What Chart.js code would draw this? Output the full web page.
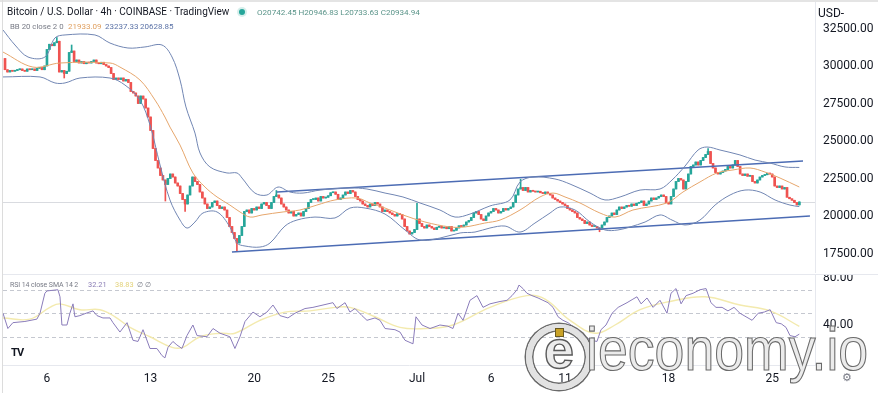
<!DOCTYPE html>
<html>
<head>
<meta charset="utf-8">
<script src="https://cdn.jsdelivr.net/npm/chart.js@4.4.0/dist/chart.umd.min.js"></script>
<style>
  body { margin: 0; background: #fff; }
  #wrap { position: relative; width: 878px; height: 393px; overflow: hidden; background: #fff; font-family: Roboto, "Open Sans", sans-serif; }
  canvas { position: absolute; left: 0; }
  #main { top: 0; }
  #rsi { top: 275px; }
  .lbl { position: absolute; white-space: nowrap; line-height: 12px; }
  #topbar { position: absolute; left: 0; top: 0; width: 878px; height: 2px; background: #e4e4e4; }
  #leftbar { position: absolute; left: 2px; top: 0; width: 1px; height: 393px; background: #dcdcdc; }
  #sep { position: absolute; left: 3px; top: 274px; width: 875px; height: 1px; background: #e6e8ee; }
  #dot { position: absolute; left: 239px; top: 9px; width: 6px; height: 6px; border-radius: 50%; background: #26a69a; box-shadow: 0 0 0 2px #d7efec; }
  #wm-ring { position: absolute; left: 526px; top: 324px; width: 54px; height: 54px; border: 6px solid #e2e2e2; border-radius: 50%; box-shadow: 0 0 0 1.5px #6a6a6a, inset 0 0 0 1.5px #6a6a6a; }
  #wm-e { position: absolute; left: 538px; top: 318px; width: 42px; text-align: center; font: bold 54px "Liberation Sans", Arial, sans-serif; line-height: 62px; color: #ececec; -webkit-text-stroke: 1.4px #5a5a5a; }
  #wm-gold { position: absolute; left: 555px; top: 328px; width: 7px; height: 7px; background: #c9a227; border: 1px solid #6a5a20; }
  #wm-text { position: absolute; left: 586px; top: 318px; font: 62px "Liberation Sans", Arial, sans-serif; line-height: 62px; color: #ebebeb; -webkit-text-stroke: 1.2px #6b6b6b; transform: scaleX(0.865); transform-origin: left top; white-space: nowrap; }
</style>
</head>
<body>
<div id="wrap">
  <canvas id="main" width="878" height="275"></canvas>
  <canvas id="rsi" width="878" height="118"></canvas>
  <div id="topbar"></div>
  <div id="leftbar"></div>
  <div id="sep"></div>

  <div class="lbl" style="left:7px;top:6px;font-size:10px;color:#131722">Bitcoin / U.S. Dollar · 4h · COINBASE · TradingView</div>
  <div id="dot"></div>
  <div class="lbl" id="ohlc" style="left:257px;top:6px;font-size:8.1px;color:#5a9489"></div>

  <div class="lbl" style="left:10px;top:21px;font-size:7.8px;color:#787b86">BB 20 close 2 0</div>
  <div class="lbl" id="bbMid" style="left:68px;top:21px;font-size:8px;color:#e0a060"></div>
  <div class="lbl" id="bbUp" style="left:105px;top:21px;font-size:8px;color:#5d74a8"></div>
  <div class="lbl" id="bbLow" style="left:140px;top:21px;font-size:8px;color:#5d74a8"></div>

  <div class="lbl" style="left:10px;top:279px;font-size:7px;letter-spacing:-0.1px;color:#787b86">RSI 14 close SMA 14 2</div>
  <div class="lbl" id="rsiVal" style="left:88px;top:279px;font-size:7.4px;color:#8a7db5"></div>
  <div class="lbl" id="smaVal" style="left:115px;top:279px;font-size:7.4px;color:#e3d27a"></div>
  <div class="lbl" style="left:137px;top:279px;font-size:7.4px;color:#787b86">∅ ∅</div>

  <div class="lbl" style="left:818px;top:7px;font-size:12px;color:#131722">USD-</div>
  <div class="lbl" style="left:11px;top:347px;font-size:11px;font-weight:bold;color:#131722;letter-spacing:-1px">TV</div>
  <div class="lbl" style="left:842px;top:372px;font-size:11px;color:#787b86">⚙</div>

  <div id="wm-ring"></div>
  <div id="wm-e">e</div>
  <div id="wm-gold"></div>
  <div id="wm-text">ieconomy.io</div>
</div>

<script>
// time axis is in days of June (31 = Jul 1), 4h candles
const firstCandleDay = 3 + 1 / 6;
const firstOpen = 30500;
const xMin = 3.03;
const xMax = 57.89;

const dateTicks = [6, 13, 20, 25, 31, 36, 41, 48, 55];
const dateLabels = ["6", "13", "20", "25", "Jul", "6", "11", "18", "25"];
const priceTicks = [17500, 20000, 22500, 25000, 27500, 30000, 32500];
const rsiTicks = [80, 40];
const rsiBands = [70, 50, 30];

// 4h closes, one row per day
const closes = [
  29750, 29600, 29700, 29650, 29700,            // Jun 3
  29750, 29800, 29700, 29650, 29800, 29750,     // Jun 4
  29800, 29700, 29850, 29900, 29750, 30000,     // Jun 5
  31100, 31450, 31350, 31550, 31650, 29600,     // Jun 6
  29700, 29500, 29650, 30900, 31000, 30300,     // Jun 7
  30400, 30200, 30300, 30150, 30250, 30200,     // Jun 8
  30300, 30400, 30200, 30150, 30250, 30100,     // Jun 9
  30000, 29900, 29500, 29100, 29200, 29100,     // Jun 10
  29200, 29000, 29100, 28900, 28300, 28200,     // Jun 11
  28000, 27500, 28000, 27800, 27200, 26600,     // Jun 12
  25700, 24500, 23700, 23200, 22700, 22400,     // Jun 13
  22100, 22500, 22800, 22600, 22200, 22000,     // Jun 14
  21500, 21100, 20800, 21400, 22000, 22600,     // Jun 15
  22300, 22100, 21600, 21200, 20800, 20500,     // Jun 16
  20600, 20900, 21000, 20700, 20500, 20600,     // Jun 17
  20400, 19900, 19300, 18900, 18500, 18200,     // Jun 18
  18700, 19300, 20300, 20400, 20200, 20500,     // Jun 19
  20400, 20600, 20500, 20800, 20900, 20700,     // Jun 20
  20500, 20900, 21300, 21400, 21200, 20800,     // Jun 21
  20600, 20400, 20200, 20300, 20000, 20100,     // Jun 22
  20200, 20000, 20300, 20500, 20900, 21100,     // Jun 23
  21100, 21200, 21000, 21300, 21200, 21250,     // Jun 24
  21350, 21550, 21600, 21450, 21100, 21200,     // Jun 25
  21400, 21600, 21500, 21700, 21600, 21300,     // Jun 26
  21100, 21000, 20800, 20700, 20600, 20800,     // Jun 27
  20700, 20900, 20800, 20600, 20300, 20400,     // Jun 28
  20300, 20200, 20100, 20000, 20150, 20100,     // Jun 29
  19800, 19300, 19000, 18800, 18900, 19100,     // Jun 30
  19800, 19500, 19300, 19200, 19400, 19300,     // Jul 1
  19200, 19100, 19250, 19300, 19200, 19250,     // Jul 2
  19150, 19300, 19000, 19050, 19200, 19350,     // Jul 3
  19300, 19400, 19600, 19700, 19900, 20200,     // Jul 4
  20300, 20100, 19800, 19700, 20000, 20200,     // Jul 5
  20300, 20500, 20400, 20200, 20300, 20500,     // Jul 6
  20400, 20500, 20600, 20900, 21400, 21800,     // Jul 7
  21900, 21700, 21900, 21600, 21700, 21650,     // Jul 8
  21600, 21650, 21550, 21500, 21600, 21500,     // Jul 9
  21400, 21200, 21100, 21000, 20900, 20800,     // Jul 10
  20700, 20500, 20400, 20300, 20200, 19900,     // Jul 11
  19800, 19700, 19500, 19600, 19400, 19300,     // Jul 12
  19300, 19200, 19100, 19400, 19600, 19900,     // Jul 13
  20000, 20200, 20100, 20400, 20600, 20500,     // Jul 14
  20600, 20700, 20650, 20800, 20700, 20850,     // Jul 15
  20900, 21000, 20700, 20800, 21000, 21200,     // Jul 16
  21100, 21200, 21300, 21400, 21300, 20900,     // Jul 17
  20800, 21300, 21800, 22300, 22500, 22400,     // Jul 18
  21800, 22300, 22800, 23300, 23400, 23600,     // Jul 19
  23400, 23700, 23900, 24100, 24300, 23500,     // Jul 20
  23200, 22900, 22800, 22900, 23000, 23100,     // Jul 21
  23300, 23200, 23400, 23700, 23300, 22800,     // Jul 22
  22700, 22800, 22650, 22700, 22300, 22200,     // Jul 23
  22400, 22600, 22700, 22750, 22850, 22800,     // Jul 24
  22600, 22000, 21900, 22000, 21800, 21900,     // Jul 25
  21250, 21150, 21050, 20900, 20742.45, 20934.94 // Jul 26
];

// visible wicks: [candle index, high, low]
const wicks = [
  [21, 31900, null], [24, null, 29200], [27, 31400, null], [65, null, 21000],
  [73, null, 20300], [94, null, 17650], [110, 21700, null], [167, 20850, null],
  [209, 22450, null], [241, null, 18950], [285, 24500, null], [322, 20946.83, 20733.63]
];

// Bollinger 20/2: [day, price]
const bbUpper = [
  [3.03, 32400], [3.84, 31400], [4.72, 30600], [5.86, 30600], [6.54, 31870], [7.22, 32070],
  [9.24, 32070], [10.26, 31530], [11.47, 31200], [12.62, 31270], [13.77, 31400], [14.45, 30600],
  [14.99, 29070], [15.39, 27270], [16.0, 25530], [16.34, 24200], [17.01, 23270], [18.16, 22870],
  [18.84, 22870], [19.18, 22530], [20.05, 21530], [20.86, 21400], [21.61, 21930], [22.42, 21600],
  [23.3, 21530], [24.45, 21730], [26.47, 21870], [27.62, 21800], [28.84, 21530], [30.05, 21270],
  [31.2, 20870], [32.55, 20400], [33.57, 19930], [34.58, 20130], [35.93, 20670], [37.28, 21070],
  [37.96, 22270], [38.84, 22600], [40.32, 22470], [41.34, 22130], [42.69, 21530], [43.7, 21070],
  [44.72, 21270], [46.07, 21730], [47.42, 21800], [48.23, 22400], [49.11, 23330], [49.99, 24400],
  [50.59, 24600], [51.47, 24400], [52.82, 24070], [53.84, 23730], [54.85, 23530], [55.86, 23270],
  [56.83, 23237.33]
];
const bbBasis = [
  [3.03, 30930], [5.05, 29930], [6.88, 30200], [10.26, 30200], [10.93, 29930], [12.28, 29070],
  [13.3, 27730], [13.97, 26600], [14.31, 25930], [14.99, 24730], [15.86, 22870], [16.68, 21930],
  [17.49, 21270], [18.36, 20730], [19.04, 20270], [19.72, 19930], [20.53, 20070], [21.95, 20270],
  [23.09, 20400], [24.24, 20730], [25.46, 21070], [26.95, 21200], [27.82, 20870], [28.84, 20530],
  [30.05, 20070], [31.54, 19600], [33.23, 19270], [34.24, 19270], [35.58, 19530], [36.61, 19730],
  [37.96, 20400], [39.31, 21270], [40.19, 21530], [41.0, 21270], [42.01, 20870], [43.36, 20200],
  [44.38, 19930], [45.59, 20400], [47.89, 20870], [48.97, 21600], [50.12, 22270], [51.27, 22870],
  [52.35, 23070], [53.5, 23200], [54.51, 22930], [55.53, 22530], [56.83, 21933.09]
];
const bbLower = [
  [3.03, 29270], [5.53, 29270], [6.54, 28870], [7.22, 28870], [8.23, 29200], [10.26, 29200],
  [11.27, 28730], [12.28, 27730], [12.96, 26070], [13.64, 23400], [14.31, 21070], [14.99, 19730],
  [15.46, 19200], [16.0, 19600], [16.54, 20200], [17.49, 20270], [18.36, 19270], [18.84, 18200],
  [19.38, 18000], [20.39, 17930], [21.07, 18200], [22.08, 19330], [22.89, 19730], [24.11, 19930],
  [25.46, 19870], [26.47, 20530], [27.49, 20530], [28.84, 20130], [30.19, 19070], [31.2, 18400],
  [32.55, 18530], [33.91, 18870], [34.92, 18930], [35.93, 19200], [36.95, 19330], [37.96, 18930],
  [38.97, 19530], [39.99, 20200], [40.66, 20600], [41.68, 20400], [42.69, 19600], [43.7, 19070],
  [44.58, 19070], [45.39, 19270], [46.41, 19600], [47.42, 20070], [48.23, 19730], [49.11, 19400],
  [50.12, 19730], [51.14, 20730], [52.15, 21400], [53.16, 21730], [54.18, 21600], [55.19, 21070],
  [56.2, 20730], [56.83, 20628.85]
];

// trend channel drawn on the chart
const channelTop = [[21.54, 21600], [57.08, 23670]];
const channelBottom = [[18.5, 17600], [57.55, 20000]];

// RSI 14 and its SMA 14
const rsiLine = [
  [3.03, 50], [3.36, 37], [3.7, 42], [4.51, 43], [5.32, 45], [5.53, 50], [5.86, 67], [6.0, 69],
  [6.74, 70], [6.88, 64], [7.01, 40], [7.35, 40], [7.55, 50], [7.76, 58], [7.89, 47], [8.23, 48],
  [8.64, 50], [9.11, 52], [9.38, 48], [9.78, 46], [10.26, 46], [10.46, 42], [10.93, 34], [11.41, 42],
  [11.81, 27], [12.15, 26], [12.49, 36], [12.96, 20], [13.43, 20], [13.77, 14], [13.97, 12], [14.18, 21],
  [14.51, 26], [14.78, 23], [15.12, 20], [15.46, 31], [15.86, 40], [16.14, 31], [16.81, 30], [17.22, 37],
  [17.69, 33], [18.36, 30], [18.7, 20], [19.04, 30], [19.38, 43], [19.92, 51], [20.39, 47], [20.86, 51],
  [21.27, 57], [21.74, 48], [22.28, 46], [22.76, 50], [23.43, 54], [23.97, 55], [24.65, 57], [25.32, 59],
  [25.59, 54], [26.14, 59], [26.47, 51], [26.81, 54], [27.28, 48], [27.62, 44], [28.16, 46], [28.5, 44],
  [28.84, 37], [29.51, 36], [29.85, 34], [30.19, 27], [30.73, 24], [30.93, 47], [31.34, 40], [31.88, 37],
  [32.55, 40], [33.09, 39], [33.43, 37], [33.77, 50], [34.11, 44], [34.58, 61], [35.05, 65], [35.46, 55],
  [35.93, 58], [36.61, 60], [37.08, 61], [37.42, 65], [37.76, 70], [37.89, 74], [38.16, 71], [38.43, 67],
  [38.77, 65], [39.18, 63], [39.51, 61], [39.85, 59], [40.19, 55], [40.53, 47], [40.86, 44], [41.2, 42],
  [41.61, 38], [42.01, 34], [42.35, 30], [42.76, 27], [43.16, 26], [43.43, 36], [43.77, 40], [44.18, 50],
  [44.59, 55], [45.19, 59], [45.59, 62], [45.86, 64], [46.14, 58], [46.54, 63], [46.95, 55], [47.42, 61],
  [47.89, 50], [48.16, 67], [48.5, 71], [48.84, 58], [49.18, 65], [49.65, 67], [50.12, 70], [50.53, 71],
  [50.86, 59], [51.2, 55], [51.61, 55], [52.01, 52], [52.42, 55], [52.82, 50], [53.23, 47], [53.64, 44],
  [54.05, 50], [54.46, 51], [54.86, 53], [55.27, 42], [55.61, 41], [55.93, 38], [56.2, 31], [56.54, 30],
  [56.83, 32.21]
];
const rsiSma = [
  [3.03, 46], [4.85, 45], [6.2, 55], [6.88, 58], [8.23, 53], [9.58, 53], [10.6, 47], [11.61, 38],
  [12.96, 30], [14.45, 21], [15.19, 21], [16.34, 30], [17.69, 33], [18.7, 33], [20.39, 44], [22.08, 51],
  [23.77, 52], [25.46, 55], [26.47, 55], [28.16, 47], [29.85, 38], [31.54, 37], [33.43, 40], [35.93, 55],
  [38.43, 65], [39.65, 62], [41.34, 44], [43.03, 33], [44.38, 40], [46.07, 53], [48.09, 60], [50.46, 64],
  [52.82, 57], [54.86, 52], [56.83, 38.83]
];

const upColor = "#26a69a";
const downColor = "#ef5350";

// build candles
let candleTimes = [];
let opens = [];
let highs = [];
let lows = [];
for (let i = 0; i < closes.length; i++) {
  candleTimes.push(firstCandleDay + i / 6);
  let o = i == 0 ? firstOpen : closes[i - 1];
  opens.push(o);
  highs.push(Math.max(o, closes[i]));
  lows.push(Math.min(o, closes[i]));
}
wicks.forEach(w => {
  if (w[1] != null) highs[w[0]] = w[1];
  if (w[2] != null) lows[w[0]] = w[2];
});
let candleColors = closes.map((c, i) => c >= opens[i] ? upColor : downColor);

const toPoints = arr => arr.map(p => ({ x: p[0], y: p[1] }));
const last = closes.length - 1;

document.getElementById("ohlc").textContent =
  `O${opens[last].toFixed(2)} H${highs[last].toFixed(2)} L${lows[last].toFixed(2)} C${closes[last].toFixed(2)}`;
document.getElementById("bbMid").textContent = bbBasis[bbBasis.length - 1][1].toFixed(2);
document.getElementById("bbUp").textContent = bbUpper[bbUpper.length - 1][1].toFixed(2);
document.getElementById("bbLow").textContent = bbLower[bbLower.length - 1][1].toFixed(2);
document.getElementById("rsiVal").textContent = rsiLine[rsiLine.length - 1][1].toFixed(2);
document.getElementById("smaVal").textContent = rsiSma[rsiSma.length - 1][1].toFixed(2);

const axisFont = { family: "Roboto, 'Open Sans', sans-serif", size: 12 };

// keep the plot areas fixed: no extra room for edge labels
function fixY(s) {
  s.width = 63;
  s.paddingTop = 0;
  s.paddingBottom = 0;
}
function fixX(s) {
  s.height = 28;
  s.paddingLeft = 0;
  s.paddingRight = 0;
}

// faint line at the last price
const priceLine = {
  id: "priceLine",
  beforeDatasetsDraw(chart) {
    const { ctx, chartArea, scales } = chart;
    let y = Math.round(scales.y.getPixelForValue(closes[last])) + 0.5;
    ctx.save();
    ctx.strokeStyle = "#d9dbe0";
    ctx.lineWidth = 1;
    ctx.beginPath();
    ctx.moveTo(chartArea.left, y);
    ctx.lineTo(chartArea.right, y);
    ctx.stroke();
    ctx.restore();
  }
};

// dashed 70 / 50 / 30 levels
const rsiLevels = {
  id: "rsiLevels",
  beforeDatasetsDraw(chart) {
    const { ctx, chartArea, scales } = chart;
    ctx.save();
    ctx.strokeStyle = "#c5c8d0";
    ctx.lineWidth = 1;
    ctx.setLineDash([4, 3]);
    rsiBands.forEach(v => {
      let y = Math.round(scales.y.getPixelForValue(v)) + 0.5;
      ctx.beginPath();
      ctx.moveTo(chartArea.left, y);
      ctx.lineTo(chartArea.right, y);
      ctx.stroke();
    });
    ctx.restore();
  }
};

function lineSet(points, color, width, tension) {
  return {
    type: "line",
    data: toPoints(points),
    borderColor: color,
    borderWidth: width,
    pointRadius: 0,
    tension: tension,
    order: 0
  };
}

new Chart(document.getElementById("main"), {
  type: "bar",
  data: {
    datasets: [
      lineSet(bbUpper, "#7186b3", 1, 0.35),
      lineSet(bbBasis, "#e6a66c", 1, 0.35),
      lineSet(bbLower, "#7186b3", 1, 0.35),
      lineSet(channelTop, "#4c6cb4", 1.4, 0),
      lineSet(channelBottom, "#4c6cb4", 1.4, 0),
      {
        label: "body",
        data: closes.map((c, i) => ({ x: candleTimes[i], y: [opens[i], c] })),
        backgroundColor: candleColors,
        barThickness: 2,
        minBarLength: 1,
        grouped: false,
        order: 1
      },
      {
        label: "wick",
        data: closes.map((c, i) => ({ x: candleTimes[i], y: [lows[i], highs[i]] })),
        backgroundColor: candleColors,
        barThickness: 1,
        grouped: false,
        order: 2
      }
    ]
  },
  options: {
    responsive: false,
    animation: false,
    layout: { padding: { left: 3, right: 0, top: 0, bottom: 3 } },
    plugins: { legend: { display: false }, tooltip: { enabled: false } },
    scales: {
      x: { type: "linear", min: xMin, max: xMax, offset: false, display: false },
      y: {
        position: "right",
        min: 16267,
        max: 34400,
        beginAtZero: false,
        afterBuildTicks: s => { s.ticks = priceTicks.map(v => ({ value: v })); },
        afterFit: fixY,
        ticks: { crossAlign: "near", padding: 8, color: "#131722", font: axisFont, callback: v => v.toFixed(2) },
        grid: { display: false, drawTicks: false },
        border: { display: true, color: "#e6e8ee" }
      }
    }
  },
  plugins: [priceLine]
});

new Chart(document.getElementById("rsi"), {
  type: "line",
  data: {
    datasets: [
      { data: toPoints(rsiLine), borderColor: "#8a7cba", borderWidth: 1, pointRadius: 0, tension: 0, order: 0 },
      { data: toPoints(rsiSma), borderColor: "#f3eaae", borderWidth: 1.4, pointRadius: 0, tension: 0.4, order: 1 }
    ]
  },
  options: {
    responsive: false,
    animation: false,
    layout: { padding: { left: 3, right: 0, top: 0, bottom: 0 } },
    plugins: { legend: { display: false }, tooltip: { enabled: false } },
    scales: {
      x: {
        type: "linear",
        min: xMin,
        max: xMax,
        afterBuildTicks: s => { s.ticks = dateTicks.map(v => ({ value: v })); },
        afterFit: fixX,
        ticks: { autoSkip: false, maxRotation: 0, padding: 7, color: "#131722", font: axisFont, callback: (v, i) => dateLabels[i] },
        grid: { display: false, drawTicks: false },
        border: { display: true, color: "#e6e8ee" }
      },
      y: {
        position: "right",
        min: 5.96,
        max: 82.55,
        afterBuildTicks: s => { s.ticks = rsiTicks.map(v => ({ value: v })); },
        afterFit: fixY,
        ticks: { crossAlign: "near", padding: 8, color: "#131722", font: axisFont, callback: v => v.toFixed(2) },
        grid: { display: false, drawTicks: false },
        border: { display: true, color: "#e6e8ee" }
      }
    }
  },
  plugins: [rsiLevels]
});
</script>
</body>
</html>
